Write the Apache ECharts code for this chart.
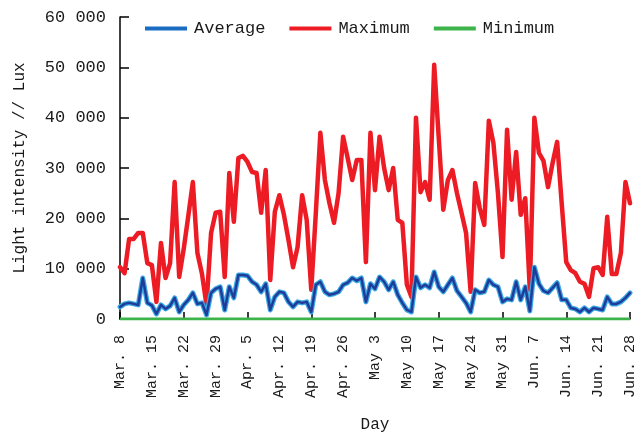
<!DOCTYPE html>
<html>
<head>
<meta charset="utf-8">
<script src="https://cdn.jsdelivr.net/npm/echarts@6/dist/echarts.min.js"></script>
<style>
  html, body { margin: 0; padding: 0; background: #ffffff; }
  #chart { width: 640px; height: 434px; }
</style>
</head>
<body>
<div id="chart"></div>
<script>
// Daily light intensity (lux), 8 March to 28 June
const startMonth = 2;   // March (0-based)
const startDay = 8;
const dayCount = 113;
const monthNames = ['Jan.', 'Feb.', 'Mar.', 'Apr.', 'May', 'Jun.', 'Jul.'];

const yTicks = [0, 10000, 20000, 30000, 40000, 50000, 60000];

const avgLux = [
  2400, 3000, 3200, 3000, 2800, 8150, 3200, 2700, 1000, 2800,
  2000, 2600, 4200, 1400, 2800, 3800, 5200, 3000, 3200, 800,
  5200, 6000, 6400, 1800, 6400, 4200, 8750, 8750, 8600, 7400,
  6800, 5400, 7000, 1800, 4400, 5400, 5200, 3400, 2400, 3400,
  3200, 3400, 1400, 6800, 7400, 5400, 4800, 5000, 5400, 6800,
  7200, 8150, 7600, 8150, 3400, 7000, 6000, 8350, 7400, 5800,
  7400, 4800, 3200, 1800, 1400, 8350, 6200, 6800, 6200, 9350,
  6400, 5400, 6800, 8150, 5600, 4400, 3200, 1400, 5800, 5200,
  5400, 7750, 6800, 6400, 3400, 4000, 3800, 7400, 3800, 6400,
  1600, 10300, 7000, 5600, 5200, 6200, 7200, 3800, 3800, 2200,
  2000, 1400, 2200, 1400, 2200, 2000, 1800, 4400, 3000, 3000,
  3400, 4200, 5200
];

const maxLux = [
  10300, 9100, 15900, 15900, 17100, 17100, 11100, 10700, 3400, 15100,
  8150, 11100, 27200, 8350, 14000, 20500, 27200, 13100, 9000, 2800,
  17100, 21100, 21300, 8350, 29000, 19300, 32000, 32400, 31200, 29200,
  29000, 21100, 29600, 7750, 21300, 24600, 20700, 15700, 10300, 14300,
  24600, 19700, 5800, 21000, 37000, 27600, 23000, 19100, 25000, 36200,
  32000, 27600, 31600, 31600, 11300, 37000, 25600, 36200, 30000, 25600,
  30000, 19700, 19100, 6800, 4400, 40000, 25200, 27200, 23700, 50500,
  36000, 21700, 27600, 29600, 25000, 21100, 17100, 5400, 27000, 22000,
  18700, 39400, 35000, 25000, 12300, 37600, 23700, 33200, 20700, 24000,
  5800, 40000, 33000, 31400, 26200, 31000, 35200, 23000, 11300, 9700,
  9100, 7400, 7000, 4400, 10100, 10300, 8750, 20300, 8950, 8950,
  13100, 27200, 23000
];

const minLux = [
  0, 0, 0, 0, 0, 0, 0, 0, 0, 0,
  0, 0, 0, 0, 0, 0, 0, 0, 0, 0,
  0, 0, 0, 0, 0, 0, 0, 0, 0, 0,
  0, 0, 0, 0, 0, 0, 0, 0, 0, 0,
  0, 0, 0, 0, 0, 0, 0, 0, 0, 0,
  0, 0, 0, 0, 0, 0, 0, 0, 0, 0,
  0, 0, 0, 0, 0, 0, 0, 0, 0, 0,
  0, 0, 0, 0, 0, 0, 0, 0, 0, 0,
  0, 0, 0, 0, 0, 0, 0, 0, 0, 0,
  0, 0, 0, 0, 0, 0, 0, 0, 0, 0,
  0, 0, 0, 0, 0, 0, 0, 0, 0, 0,
  0, 0, 0
];

// One category per calendar day, labelled like "Mar. 8"
const days = [];
for (let i = 0; i < dayCount; i++) {
  const d = new Date(2021, startMonth, startDay + i);
  days.push(monthNames[d.getMonth()] + ' ' + d.getDate());
}

const FONT = 'Liberation Mono';
const TEXT = '#1a1a1a';
const LEGEND_BAR = 'path://M0,0L42,0L42,4L0,4Z';

const chart = echarts.init(document.getElementById('chart'), null, { renderer: 'canvas' });

chart.setOption({
  animation: false,
  backgroundColor: '#ffffff',
  grid: {
    left: 120, right: 10, top: 17, bottom: 115,
    containLabel: false,
    outerBoundsMode: 'none'
  },
  legend: {
    left: 145,
    top: 20,
    padding: 0,
    itemWidth: 42,
    itemHeight: 14,
    itemGap: 24,
    textStyle: { fontFamily: FONT, fontSize: 17, color: TEXT, padding: [0, 0, 0, 2] },
    data: [
      { name: 'Average', icon: LEGEND_BAR, itemStyle: { color: '#1a6cc2' } },
      { name: 'Maximum', icon: LEGEND_BAR, itemStyle: { color: '#ed1c24' } },
      { name: 'Minimum', icon: LEGEND_BAR, itemStyle: { color: '#3cb44a' } }
    ]
  },
  xAxis: {
    type: 'category',
    data: days,
    boundaryGap: false,
    name: 'Day',
    nameLocation: 'middle',
    nameGap: 98,
    nameTextStyle: { fontFamily: FONT, fontSize: 16, color: TEXT },
    axisLine: { lineStyle: { color: '#000000', width: 1.5 } },
    axisTick: {
      inside: true,
      length: 7,
      interval: (i) => i % 14 === 0,
      lineStyle: { color: '#000000', width: 1.5 }
    },
    axisLabel: {
      interval: (i) => i % 7 === 0,
      rotate: 90,
      margin: 16,
      fontFamily: FONT,
      fontSize: 15,
      color: TEXT
    },
    splitLine: { show: false }
  },
  yAxis: {
    type: 'value',
    min: yTicks[0],
    max: yTicks[yTicks.length - 1],
    interval: yTicks[1] - yTicks[0],
    name: 'Light intensity // Lux',
    nameLocation: 'middle',
    nameGap: 92,
    nameTextStyle: { fontFamily: FONT, fontSize: 16, color: TEXT },
    axisLine: { show: true, lineStyle: { color: '#000000', width: 1.5 } },
    axisTick: { show: true, inside: true, length: 9, lineStyle: { color: '#000000', width: 1.5 } },
    axisLabel: {
      margin: 14,
      fontFamily: FONT,
      fontSize: 17,
      color: TEXT,
      formatter: (v) => (v === 0 ? '0' : (v / 1000) + ' 000')
    },
    splitLine: { show: false }
  },
  series: [
    {
      name: 'Maximum',
      type: 'line',
      data: maxLux,
      symbol: 'none',
      z: 2,
      lineStyle: { color: '#ed1c24', width: 4.5, join: 'round', cap: 'round' }
    },
    {
      // light blue rim under the average line
      name: 'Average rim',
      type: 'line',
      data: avgLux,
      symbol: 'none',
      z: 3,
      silent: true,
      lineStyle: { color: '#3aa7e4', width: 5, join: 'round', cap: 'round' }
    },
    {
      name: 'Average',
      type: 'line',
      data: avgLux,
      symbol: 'none',
      z: 4,
      lineStyle: { color: '#1f3d98', width: 2.5, join: 'round', cap: 'round' }
    },
    {
      name: 'Minimum',
      type: 'line',
      data: minLux,
      symbol: 'none',
      z: 5,
      lineStyle: { color: '#3cb44a', width: 3 }
    }
  ]
});
</script>
</body>
</html>
